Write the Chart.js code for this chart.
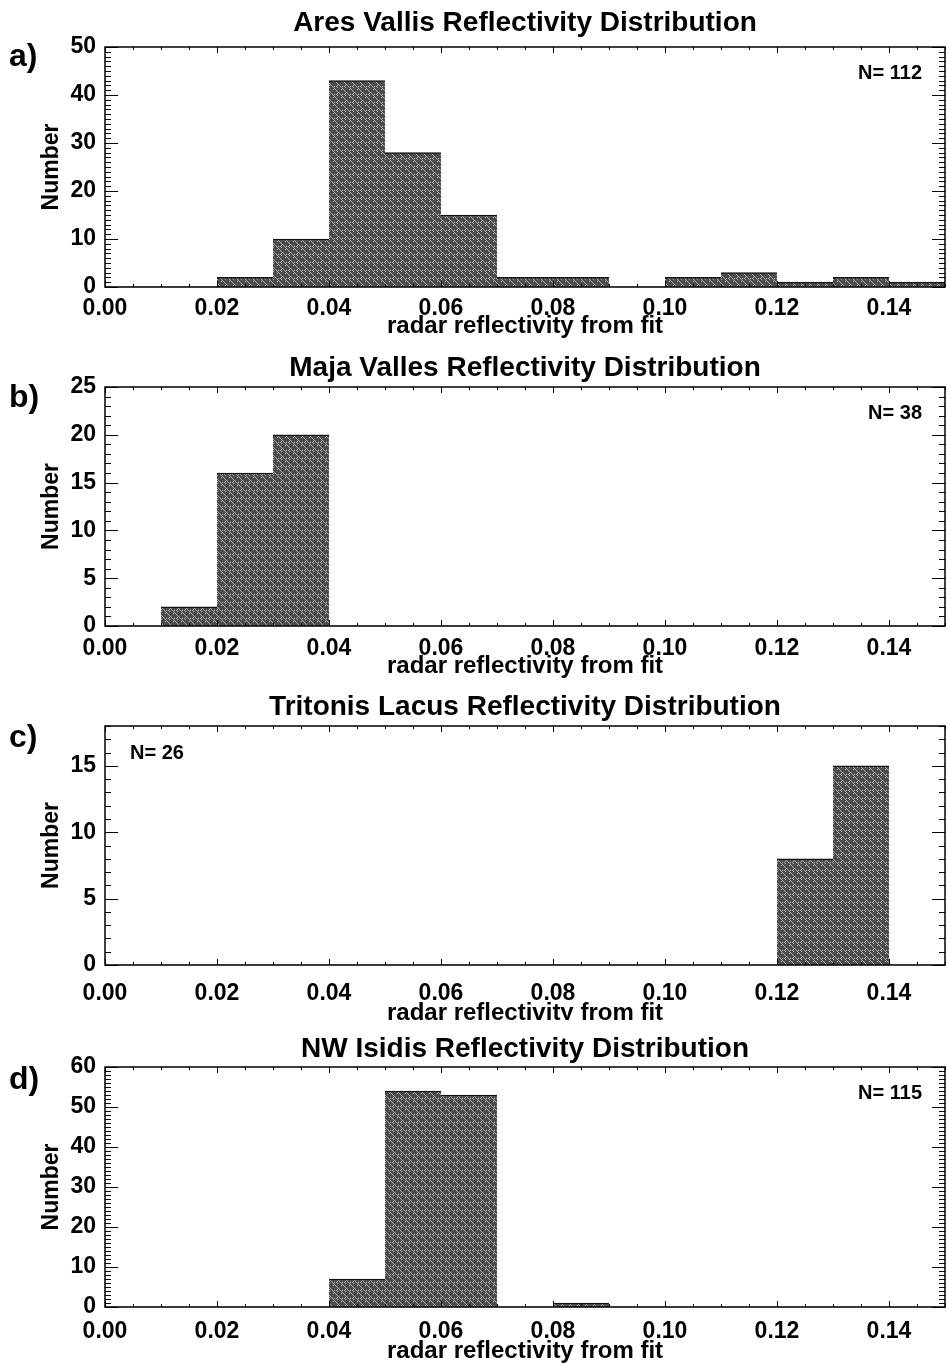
<!DOCTYPE html>
<html><head><meta charset="utf-8">
<script src="https://cdn.jsdelivr.net/npm/chart.js@4/dist/chart.umd.min.js"></script>
<style>
html,body{margin:0;padding:0;background:#fff;}
body{width:947px;height:1363px;position:relative;overflow:hidden;}
.panel{position:absolute;left:0;width:947px;}
canvas{display:block;}
</style></head><body>
<div class="panel" style="top:0px;height:340px"><canvas id="c0" width="947" height="340"></canvas></div>
<div class="panel" style="top:340px;height:340px"><canvas id="c1" width="947" height="340"></canvas></div>
<div class="panel" style="top:680px;height:340px"><canvas id="c2" width="947" height="340"></canvas></div>
<div class="panel" style="top:1020px;height:343px"><canvas id="c3" width="947" height="343"></canvas></div>
<script>
// ---- data ----
const binStarts = [0.00,0.01,0.02,0.03,0.04,0.05,0.06,0.07,0.08,0.09,0.10,0.11,0.12,0.13,0.14];
const binWidth = 0.01;
const aresVallis    = [0,0,2,10,43,28,15,2,2,0,2,3,1,2,1];
const majaValles    = [0,2,16,20,0,0,0,0,0,0,0,0,0,0,0];
const tritonisLacus = [0,0,0,0,0,0,0,0,0,0,0,0,8,15,0];
const nwIsidis      = [0,0,0,0,7,54,53,0,1,0,0,0,0,0,0];
const panelTitles = ['Ares Vallis Reflectivity Distribution','Maja Valles Reflectivity Distribution','Tritonis Lacus Reflectivity Distribution','NW Isidis Reflectivity Distribution'];
const panelLetters = ['a)','b)','c)','d)'];
const nCounts = [112,38,26,115];
const yMaxes = [50,25,18,60];
const yMajorSteps = [10,5,5,10];
const xAxisTitle = 'radar reflectivity from fit';
const yAxisTitle = 'Number';
const seriesList = [aresVallis, majaValles, tritonisLacus, nwIsidis];

// ---- layout / style (relative to each panel canvas) ----
const FONT = '"Liberation Sans", Arial, Helvetica, sans-serif';
const layouts = [
  {h:340, titleC:23, top:47, bottom:287, tickC:307, xtC:326, letterC:57, nLeft:false},
  {h:340, titleC:28, top:47, bottom:286, tickC:307, xtC:326, letterC:58, nLeft:false},
  {h:340, titleC:27, top:46, bottom:285, tickC:312, xtC:333, letterC:58, nLeft:true},
  {h:343, titleC:29, top:47, bottom:287, tickC:310, xtC:331, letterC:60, nLeft:false},
];

function makePattern(ctx){
  const c=document.createElement('canvas'); c.width=8; c.height=8;
  const g=c.getContext('2d');
  g.fillStyle='#4c4c4c'; g.fillRect(0,0,8,8);
  g.strokeStyle='rgba(185,185,185,0.85)'; g.lineWidth=1;
  g.beginPath();
  g.moveTo(-2,0); g.lineTo(10,12);
  g.moveTo(2,-4); g.lineTo(14,8);
  g.moveTo(-6,0); g.lineTo(6,12);
  g.stroke();
  g.fillStyle='rgba(220,220,220,0.75)';
  g.fillRect(5,1,1,1); g.fillRect(1,5,1,1); g.fillRect(6,6,1,1);
  return ctx.createPattern(c,'repeat');
}

const decor = {
  id:'decor',
  afterDraw(chart, args, o){
    const ctx=chart.ctx, ca=chart.chartArea, xs=chart.scales.x, ys=chart.scales.y;
    ctx.save();
    ctx.strokeStyle='#000'; ctx.lineWidth=1.5;
    ctx.strokeRect(ca.left, ca.top, ca.right-ca.left, ca.bottom-ca.top);
    ctx.lineWidth=1;
    ctx.beginPath();
    // x ticks (major every 0.02, minor every 0.005)
    for(let k=0;k<=30;k++){
      const v=k*0.005; const px=Math.round(xs.getPixelForValue(v))+0.5;
      const len = (k%4===0)?6:3;
      ctx.moveTo(px,ca.bottom); ctx.lineTo(px,ca.bottom-len);
      ctx.moveTo(px,ca.top); ctx.lineTo(px,ca.top+len);
    }
    // y ticks (major at label steps, minor every 1)
    for(let v=0; v<=o.ymax; v++){
      const py=Math.round(ys.getPixelForValue(v))+0.5;
      const len = (v%o.step===0)?13:6;
      ctx.moveTo(ca.left,py); ctx.lineTo(ca.left+len,py);
      ctx.moveTo(ca.right,py); ctx.lineTo(ca.right-len,py);
    }
    ctx.stroke();
    // title
    ctx.fillStyle='#000';
    ctx.textAlign='center'; ctx.textBaseline='middle';
    ctx.font='bold 28px '+FONT;
    ctx.fillText(o.title,(ca.left+ca.right)/2,o.titleC);
    // panel letter
    ctx.textAlign='left';
    ctx.font='bold 32px '+FONT;
    ctx.fillText(o.letter,9,o.letterC);
    // N label
    ctx.font='bold 20px '+FONT;
    if(o.nLeft){ ctx.textAlign='left'; ctx.fillText('N= '+o.n, ca.left+25, ca.top+27); }
    else { ctx.textAlign='right'; ctx.fillText('N= '+o.n, ca.right-23, ca.top+26); }
    ctx.restore();
  }
};

seriesList.forEach((vals,i)=>{
  const L=layouts[i];
  const cv=document.getElementById('c'+i);
  const ctx=cv.getContext('2d');
  const pat=makePattern(ctx);
  new Chart(ctx,{
    type:'bar',
    data:{datasets:[{
      data: binStarts.map((s,j)=>({x:s+binWidth/2, y:vals[j]})),
      backgroundColor: pat,
      borderColor:'#111',
      borderWidth:{top:1.5,left:0,right:0,bottom:0},
      borderSkipped:false,
      barPercentage:1, categoryPercentage:1
    }]},
    options:{
      responsive:false, animation:false, devicePixelRatio:1,
      layout:{padding:{left:0,right:2,top:L.top,bottom:0}},
      plugins:{legend:{display:false}, tooltip:{enabled:false}, title:{display:false},
        decor:{title:panelTitles[i], titleC:L.titleC, letter:panelLetters[i], letterC:L.letterC, n:nCounts[i], nLeft:L.nLeft, ymax:yMaxes[i], step:yMajorSteps[i]}},
      scales:{
        x:{type:'linear', min:0, max:0.15, offset:false,
          grid:{display:false}, border:{display:false},
          ticks:{stepSize:0.02, includeBounds:false, autoSkip:false, maxRotation:0, padding: L.tickC-L.bottom-17.5,
            color:'#000', font:{family:FONT, size:23, weight:'bold', lineHeight:1},
            callback:(v)=>Number(v).toFixed(2)},
          title:{display:true, text:xAxisTitle, color:'#000', font:{family:FONT,size:24,weight:'bold',lineHeight:1},
            padding:{top:0,bottom:L.h-L.xtC-12}},
          afterFit:(s)=>{ s.height = L.h - L.bottom; }
        },
        y:{type:'linear', min:0, max:yMaxes[i],
          grid:{display:false}, border:{display:false},
          ticks:{stepSize:yMajorSteps[i], includeBounds:false, padding:1, color:'#000', font:{family:FONT,size:23,weight:'bold',lineHeight:1}},
          title:{display:true, text:yAxisTitle, color:'#000', font:{family:FONT,size:23,weight:'bold',lineHeight:1},
            padding:{top:40,bottom:0}},
          afterFit:(s)=>{ s.width = 105; }
        }
      }
    },
    plugins:[decor]
  });
});
</script>
</body></html>
